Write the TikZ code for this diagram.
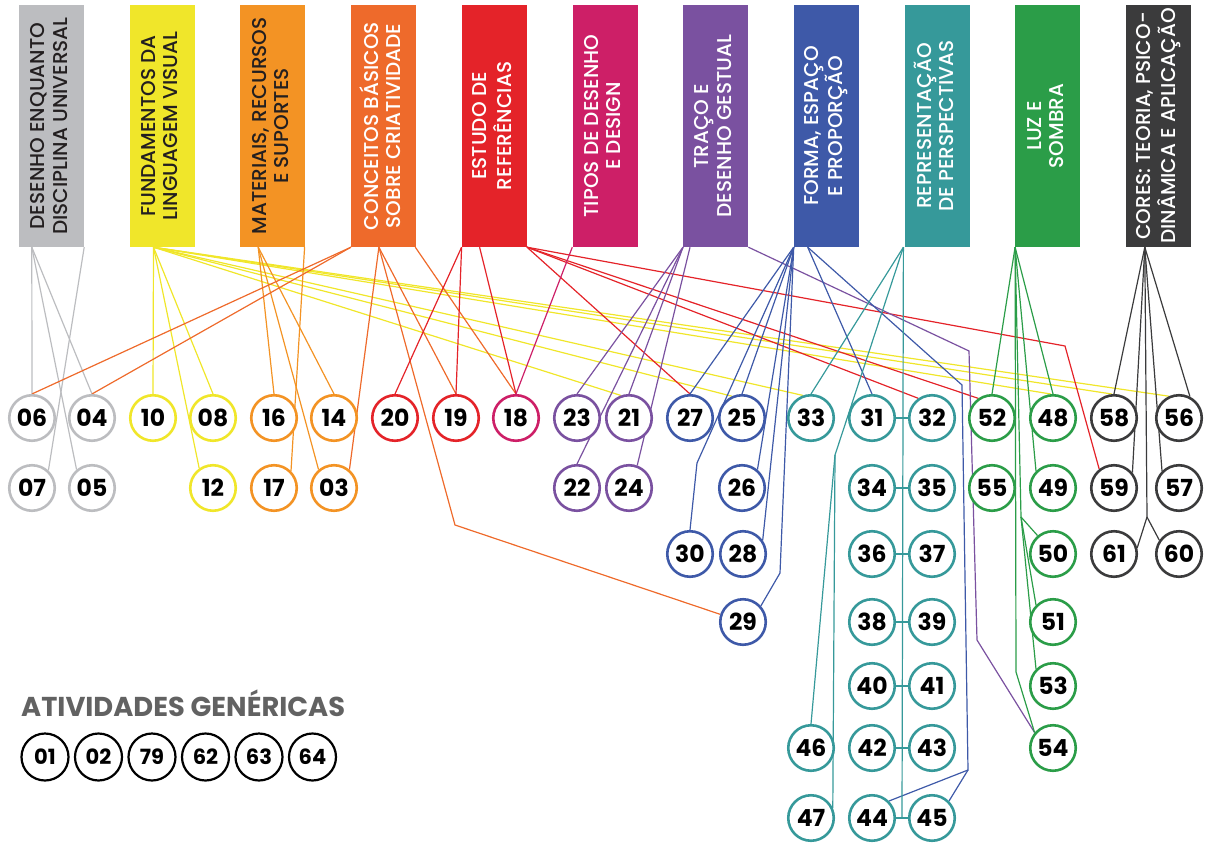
\documentclass[tikz,border=0pt]{standalone}
\usepackage{fontspec}
\usepackage{graphicx}
\setmainfont{Poppins}
\newfontfamily\hdrfont{Poppins Medium}
\usetikzlibrary{backgrounds,calc}

\definecolor{cGray}{HTML}{BCBDC0}
\definecolor{cYel}{HTML}{F0E62A}
\definecolor{cMat}{HTML}{F39324}
\definecolor{cCon}{HTML}{EE6A2B}
\definecolor{cRed}{HTML}{E42329}
\definecolor{cMag}{HTML}{CD1F67}
\definecolor{cPur}{HTML}{7A51A0}
\definecolor{cBlu}{HTML}{3E59A8}
\definecolor{cTeal}{HTML}{36999A}
\definecolor{cGrn}{HTML}{2B9D48}
\definecolor{cDk}{HTML}{3B3B3C}
\definecolor{cInk}{HTML}{231F20}
\definecolor{cTitle}{HTML}{626262}

\newcommand{\hdrtext}[2]{\rotatebox{90}{\begin{tabular}{@{}c@{}}#1\\#2\end{tabular}}}

\begin{document}
\begin{tikzpicture}[x=1pt,y=-1pt,
  hdr/.style={rectangle, fill=#1, minimum width=65pt, minimum height=242pt, inner sep=0pt,
    font=\hdrfont\fontsize{20}{22.5}\selectfont, text=white},
  num/.style={circle, draw=#1, fill=white, line width=2.6pt, minimum size=45.5pt, inner sep=0pt,
    font=\fontsize{23.5}{23.5}\selectfont\bfseries, text=black},
  gen/.style={circle, draw=black, fill=white, line width=2.2pt, minimum size=47pt, inner sep=0pt,
    font=\fontsize{21}{21}\selectfont\bfseries, text=black},
  link/.style={line width=1.2pt, draw=#1},
  pair/.style={line width=2.6pt, draw=cTeal}]

\path[use as bounding box] (0,0) rectangle (1213,843);

% subject headers
\node[hdr=cGray, text=cInk] (b1) at (51.5,126) {\hdrtext{DESENHO ENQUANTO}{DISCIPLINA UNIVERSAL}};
\node[hdr=cYel, text=cInk] (b2) at (162.2,126) {\hdrtext{FUNDAMENTOS DA}{LINGUAGEM VISUAL}};
\node[hdr=cMat, text=cInk] (b3) at (272.9,126) {\hdrtext{MATERIAIS, RECURSOS}{E SUPORTES}};
\node[hdr=cCon] (b4) at (383.6,126) {\hdrtext{CONCEITOS BÁSICOS}{SOBRE CRIATIVIDADE}};
\node[hdr=cRed] (b5) at (494.3,126) {\hdrtext{ESTUDO DE}{REFERÊNCIAS}};
\node[hdr=cMag] (b6) at (605,126) {\hdrtext{TIPOS DE DESENHO}{E DESIGN}};
\node[hdr=cPur] (b7) at (715.7,126) {\hdrtext{TRAÇO E}{DESENHO GESTUAL}};
\node[hdr=cBlu] (b8) at (826.4,126) {\hdrtext{FORMA, ESPAÇO}{E PROPORÇÃO}};
\node[hdr=cTeal] (b9) at (937.1,126) {\hdrtext{REPRESENTAÇÃO}{DE PERSPECTIVAS}};
\node[hdr=cGrn] (b10) at (1047.8,126) {\hdrtext{LUZ E}{SOMBRA}};
\node[hdr=cDk] (b11) at (1158.5,126) {\hdrtext{CORES: TEORIA, PSICO-}{DINÂMICA E APLICAÇÃO}};

% connector origins along the header bottoms
\path (b1.south west) ++(13,0) coordinate (gA);
\path (b1.south east) coordinate (gB);
\path (b2.south west) ++(24,0) coordinate (yA);
\path (b3.south west) ++(18,0) coordinate (mA);
\path (b3.south east) ++(-1,0) coordinate (mB);
\path (b4.south west) coordinate (cL);
\path (b4.south west) ++(28,0) coordinate (cM);
\path (b4.south east) ++(-1,0) coordinate (cR);
\path (b5.south west) coordinate (eL);
\path (b5.south west) ++(18,0) coordinate (eM);
\path (b5.south east) coordinate (eR);
\path (b6.south west) coordinate (tA);
\path (b7.south west) coordinate (pA);
\path (b7.south west) ++(7,0) coordinate (pB);
\path (b7.south east) coordinate (pR);
\path (b8.south west) coordinate (fA);
\path (b8.south west) ++(14,0) coordinate (fB);
\path (b9.south west) ++(-1,0) coordinate (rA);
\path (b10.south west) coordinate (lA);
\path (b11.south west) ++(19,0) coordinate (kA);

% bends
\coordinate (k29c) at (455,525);
\coordinate (k59) at (1065,346);
\coordinate (k54a) at (969,351);
\coordinate (k54b) at (977,640);
\coordinate (k30) at (697,463);
\coordinate (k29b) at (780,573);
\coordinate (k44a) at (962,385);
\coordinate (k44b) at (968,770);
\coordinate (k46) at (835,455);
\coordinate (kG) at (1021,517);
\coordinate (kG54) at (1016,672);
\coordinate (kD) at (1147,517);

% activity circles
\foreach \n/\x/\y/\c in {
  06/32/418/cGray, 04/92/418/cGray, 07/32/488/cGray, 05/92/488/cGray,
  10/153/418/cYel, 08/213/418/cYel, 12/213/488/cYel,
  16/274/418/cMat, 14/334/418/cMat, 17/274/488/cMat, 03/334/488/cMat,
  20/395/418/cRed, 19/456/418/cRed, 18/516/418/cMag,
  23/577/418/cPur, 21/629/418/cPur, 22/577/488/cPur, 24/629/488/cPur,
  27/690/418/cBlu, 25/742/418/cBlu, 26/742/488/cBlu, 30/690/554/cBlu, 28/743/554/cBlu, 29/743/622/cBlu,
  33/811/418/cTeal, 31/872/418/cTeal, 32/932/418/cTeal, 34/872/488/cTeal, 35/932/488/cTeal,
  36/872/554/cTeal, 37/932/554/cTeal, 38/872/622/cTeal, 39/932/622/cTeal,
  40/872/686/cTeal, 41/932/686/cTeal, 46/811/748/cTeal, 42/872/748/cTeal, 43/932/748/cTeal,
  47/811/818/cTeal, 44/872/818/cTeal, 45/932/818/cTeal,
  52/992/418/cGrn, 48/1053/418/cGrn, 55/992/488/cGrn, 49/1053/488/cGrn, 50/1053/554/cGrn,
  51/1053/622/cGrn, 53/1053/686/cGrn, 54/1053/748/cGrn,
  58/1114/418/cDk, 56/1179/418/cDk, 59/1114/488/cDk, 57/1179/488/cDk, 61/1114/554/cDk, 60/1179/554/cDk}
  \node[num=\c] (n\n) at (\x,\y) {\n};

\coordinate (m4445) at ($(n44.east)!0.5!(n45.west)$);

% generic activities
\node[anchor=base west, inner sep=0pt, text=cTitle, font=\fontsize{27.3}{27.3}\selectfont\bfseries] (gtitle) at (21,716) {ATIVIDADES GENÉRICAS};
\foreach \n [count=\i from 0] in {01,02,79,62,63,64}
  \node[gen] (g\n) at (45+53.5*\i,757) {\n};

\begin{pgfonlayer}{background}
  % desenho enquanto disciplina universal
  \foreach \t in {n06.north,n04.north,n05.130} \draw[link=cGray] (gA) -- (\t);
  \draw[link=cGray] (gB) -- (n07.47);
  % fundamentos da linguagem visual
  \foreach \t in {n10.north,n08.north,n12.125,n21.110,n25.115,n33.110,n48.95,n58.95,n56.115}
    \draw[link=cYel] (yA) -- (\t);
  % materiais, recursos e suportes
  \foreach \t in {n16.north,n03.130,n14.north} \draw[link=cMat] (mA) -- (\t);
  \draw[link=cMat] (mB) -- (n17.45);
  % conceitos basicos sobre criatividade
  \foreach \t in {n06.north,n04.north} \draw[link=cCon] (cL) -- (\t);
  \foreach \t in {n03.50,n19.north} \draw[link=cCon] (cM) -- (\t);
  \draw[link=cCon] (cM) -- (k29c) -- (n29);
  \draw[link=cCon] (cR) -- (n18.north);
  % estudo de referencias
  \foreach \t in {n20.north,n19.north} \draw[link=cRed] (eL) -- (\t);
  \draw[link=cRed] (eM) -- (n18.north);
  \foreach \t in {n27.north,n32.125,n52.125} \draw[link=cRed] (eR) -- (\t);
  \draw[link=cRed] (eR) -- (k59) -- (n59.128);
  % tipos de desenho e design
  \draw[link=cMag] (tA) -- (n18.north);
  % traco e desenho gestual
  \foreach \t in {n23.north,n22.north,n21.north} \draw[link=cPur] (pA) -- (\t);
  \draw[link=cPur] (pB) -- (n24.70);
  \draw[link=cPur] (pR) -- (k54a) -- (k54b) -- (n54.140);
  % forma, espaco e proporcao
  \foreach \t in {n27.north,n25.north,n26.50,n28.35} \draw[link=cBlu] (fA) -- (\t);
  \draw[link=cBlu] (fA) -- (k30) -- (n30.north);
  \draw[link=cBlu] (fA) -- (k29b) -- (n29.42);
  \draw[link=cBlu] (fB) -- (n31.north);
  \draw[link=cBlu] (fB) -- (k44a) -- (k44b) -- (n44.45);
  \draw[link=cBlu] (k44b) -- (n45.45);
  % representacao de perspectivas
  \draw[link=cTeal] (rA) -- (n33.north);
  \draw[link=cTeal] (rA) -- (k46) -- (n46.north);
  \draw[link=cTeal] (k46) -- (n47.25);
  \draw[link=cTeal] (rA) -- (m4445);
  \foreach \a/\b in {31/32,34/35,36/37,38/39,40/41,42/43,44/45}
    \draw[pair] (n\a.east) -- (n\b.west);
  % luz e sombra
  \foreach \t in {n52.north,n48.north,n49.135} \draw[link=cGrn] (lA) -- (\t);
  \draw[link=cGrn] (lA) -- (kG);
  \foreach \t in {n50.130,n51.135,n53.135} \draw[link=cGrn] (kG) -- (\t);
  \draw[link=cGrn] (lA) -- (kG54) -- (n54.140);
  % cores
  \foreach \t in {n58.north,n56.63,n59.40,n57.135} \draw[link=cDk] (kA) -- (\t);
  \draw[link=cDk] (kA) -- (kD);
  \foreach \t in {n61.15,n60.145} \draw[link=cDk] (kD) -- (\t);
\end{pgfonlayer}
\end{tikzpicture}
\end{document}
